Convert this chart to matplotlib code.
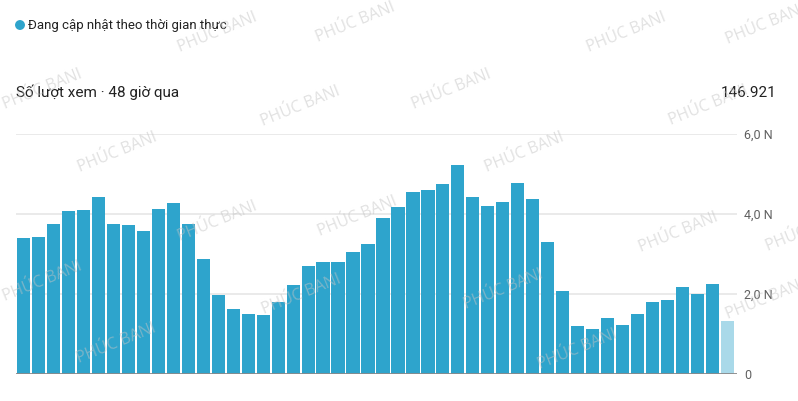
import matplotlib
matplotlib.use("Agg")
import matplotlib.pyplot as plt
from matplotlib.patches import Ellipse

# ---- data ----
values = [3400, 3420, 3750, 4070, 4100, 4420, 3750, 3720, 3570, 4120, 4270, 3750,
          2870, 1970, 1620, 1500, 1470, 1800, 2220, 2700, 2800, 2800, 3050, 3250,
          3900, 4170, 4550, 4600, 4750, 5220, 4420, 4200, 4300, 4770, 4370, 3300,
          2070, 1200, 1120, 1400, 1220, 1500, 1800, 1850, 2170, 2000, 2250, 1320]
y_ticks = [0, 2000, 4000, 6000]
y_tick_labels = ["0", "2,0 N", "4,0 N", "6,0 N"]
title = "Số lượt xem · 48 giờ qua"
total_label = "146.921"
legend_label = "Đang cập nhật theo thời gian thực"
watermark = "PHÚC BANI"
wm_centers = [(42, 90), (42, 282), (117, 153), (116, 344), (217, 33), (217, 222),
              (300, 107), (301, 295), (355, 23), (357, 217), (451, 90), (503, 290),
              (524, 153), (577, 350), (626, 33), (678, 233), (708, 106), (765, 25),
              (765, 300), (805, 232)]

W, H = 798, 401
BLUE = "#2ea4cc"
LIGHT = "#a9d9e9"

plt.rcParams['font.family'] = ['Roboto', 'DejaVu Sans']

fig = plt.figure(figsize=(W / 100, H / 100), dpi=100)
fig.patch.set_facecolor("white")

def fx(x):
    return x / W

def fy(y):
    return 1 - y / H

left, right, top, base = 16, 737, 134, 374
ax = fig.add_axes([fx(left), fy(base), (right - left) / W, (base - top) / H])
n = len(values)
pitch = (735 - 16) / n
ax.set_xlim(-0.5, n - 0.5 + (right - 735) / pitch)
ax.set_ylim(0, 6000)

colors = [BLUE] * (n - 1) + [LIGHT]
ax.bar(range(n), values, width=0.88, color=colors, zorder=2)

for t in y_ticks[1:]:
    ax.axhline(t, color="#e8e8e8", lw=1.3, zorder=1)
ax.axhline(0, color="#8a8a8a", lw=1.3, zorder=3)

for s in ax.spines.values():
    s.set_visible(False)
ax.set_xticks([])
ax.yaxis.tick_right()
ax.set_yticks(y_ticks)
ax.set_yticklabels(y_tick_labels)
ax.tick_params(axis="y", length=0, pad=5, labelsize=9, labelcolor="#606060")
ax.set_facecolor("none")

# header texts
dot = Ellipse((fx(20), fy(25)), width=8.5 / W, height=8.5 / H,
              transform=fig.transFigure, color=BLUE)
fig.patches.append(dot)
fig.text(fx(28), fy(29.5), legend_label, fontsize=9.5, color="#222222",
         ha="left", va="baseline")
fig.text(fx(16), fy(97), title, fontsize=11, color="#222222", ha="left", va="baseline")
fig.text(fx(777), fy(97), total_label, fontsize=11, color="#222222",
         ha="right", va="baseline")

# watermarks
for (x, y) in wm_centers:
    fig.text(fx(x), fy(y), watermark, fontsize=11.5, family="Open Sans",
             color="#c4c4c4", alpha=0.5, rotation=22, ha="center", va="center",
             rotation_mode="anchor", zorder=10)

fig.savefig("out.png", dpi=100, facecolor="white")
